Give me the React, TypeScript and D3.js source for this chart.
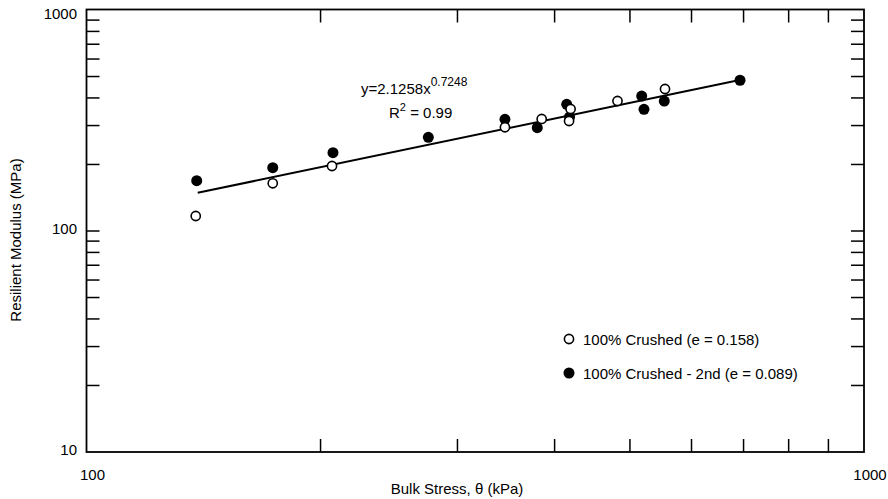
import React from "react";
import * as d3 from "d3";

const W = 888;
const H = 499;

// Data (bulk stress kPa, resilient modulus MPa)
const openX = [138.2, 173.6, 206.9, 345.3, 385, 419.4, 417.5, 481.9, 554.7];
const openY = [116.9, 164.4, 196.8, 294.6, 321.3, 356.5, 314.6, 387.4, 439];
const filledX = [138.6, 173.6, 207.5, 275.2, 345.3, 380, 414.6, 418.1, 517.7, 521.2, 553.5, 692.7];
const filledY = [168.9, 193.4, 226.1, 265.5, 320.3, 293.4, 374.4, 328.1, 408.1, 355.3, 387.4, 481];
const trendX = [139, 692];
const trendY = [149, 482];

const xTickLabels = ["100", "1000"];
const yTickLabels = ["10", "100", "1000"];
const legendLabels = ["100% Crushed (e = 0.158)", "100% Crushed - 2nd (e = 0.089)"];

const FONT = "Arial, 'Liberation Sans', Helvetica, sans-serif";

export default function App() {
  const left = 86.5, right = 864, top = 9.5, bottom = 452;
  const x = d3.scaleLog().domain([100, 1000]).range([left, right]);
  const y = d3.scaleLog().domain([10, 1000]).range([bottom, 10]);

  const xTicks: number[] = [];
  for (let m = 2; m <= 9; m++) xTicks.push(m * 100);
  const yTicks: number[] = [];
  [10, 100].forEach((d) => {
    for (let m = 1; m <= 9; m++) if (!(d === 10 && m === 1)) yTicks.push(m * d);
  });
  const TL = 13;

  const line = d3
    .line<number>()
    .x((_, i) => x(trendX[i]))
    .y((_, i) => y(trendY[i]));

  return (
    <svg width={W} height={H} style={{ position: "absolute", left: 0, top: 0, background: "#fff" }}>
      <rect x={0} y={0} width={W} height={H} fill="#fff" />
      {/* ticks */}
      <g stroke="#000" strokeWidth={1.5}>
        {xTicks.map((t) => (
          <g key={"xt" + t}>
            <line x1={x(t)} x2={x(t)} y1={bottom} y2={bottom - TL} />
            <line x1={x(t)} x2={x(t)} y1={top} y2={top + TL} />
          </g>
        ))}
        {yTicks.map((t) => (
          <g key={"yt" + t}>
            <line x1={left} x2={left + TL} y1={y(t)} y2={y(t)} />
            <line x1={right} x2={right - TL} y1={y(t)} y2={y(t)} />
          </g>
        ))}
      </g>
      <rect x={left} y={top} width={right - left} height={bottom - top} fill="none" stroke="#000" strokeWidth={1.8} />

      {/* tick labels */}
      <g fontFamily={FONT} fontSize={15} fill="#000">
        {xTickLabels.map((l) => (
          <text key={"xl" + l} x={x(+l) + 6} y={480} textAnchor="middle">
            {l}
          </text>
        ))}
        {yTickLabels.map((l) => (
          <text key={"yl" + l} x={77} y={Math.max(y(+l) + 3, 18.5)} textAnchor="end">
            {l}
          </text>
        ))}
      </g>

      {/* axis titles */}
      <text x={457} y={494} textAnchor="middle" fontFamily={FONT} fontSize={15}>
        Bulk Stress, θ (kPa)
      </text>
      <text
        transform={`translate(21,240) rotate(-90)`}
        textAnchor="middle"
        fontFamily={FONT}
        fontSize={15}
      >
        Resilient Modulus (MPa)
      </text>

      {/* trend line */}
      <path d={line(trendX) || ""} fill="none" stroke="#000" strokeWidth={2} />

      {/* points */}
      {filledX.map((v, i) => (
        <circle key={"f" + i} cx={x(v)} cy={y(filledY[i])} r={5.5} fill="#000" />
      ))}
      {openX.map((v, i) => (
        <circle key={"o" + i} cx={x(v)} cy={y(openY[i])} r={4.6} fill="#fff" stroke="#000" strokeWidth={1.6} />
      ))}

      {/* equation */}
      <text x={361} y={94} fontFamily={FONT} fontSize={15}>
        y=2.1258x
        <tspan fontSize={12} dy={-8}>0.7248</tspan>
      </text>
      <text x={389} y={118} fontFamily={FONT} fontSize={15}>
        R<tspan fontSize={11} dy={-7}>2</tspan>
        <tspan dy={7}> = 0.99</tspan>
      </text>

      {/* legend */}
      <circle cx={569} cy={339} r={4.6} fill="#fff" stroke="#000" strokeWidth={1.6} />
      <text x={583} y={344.5} fontFamily={FONT} fontSize={15}>
        {legendLabels[0]}
      </text>
      <circle cx={569} cy={373} r={5.5} fill="#000" />
      <text x={583} y={378.5} fontFamily={FONT} fontSize={15}>
        {legendLabels[1]}
      </text>
    </svg>
  );
}
